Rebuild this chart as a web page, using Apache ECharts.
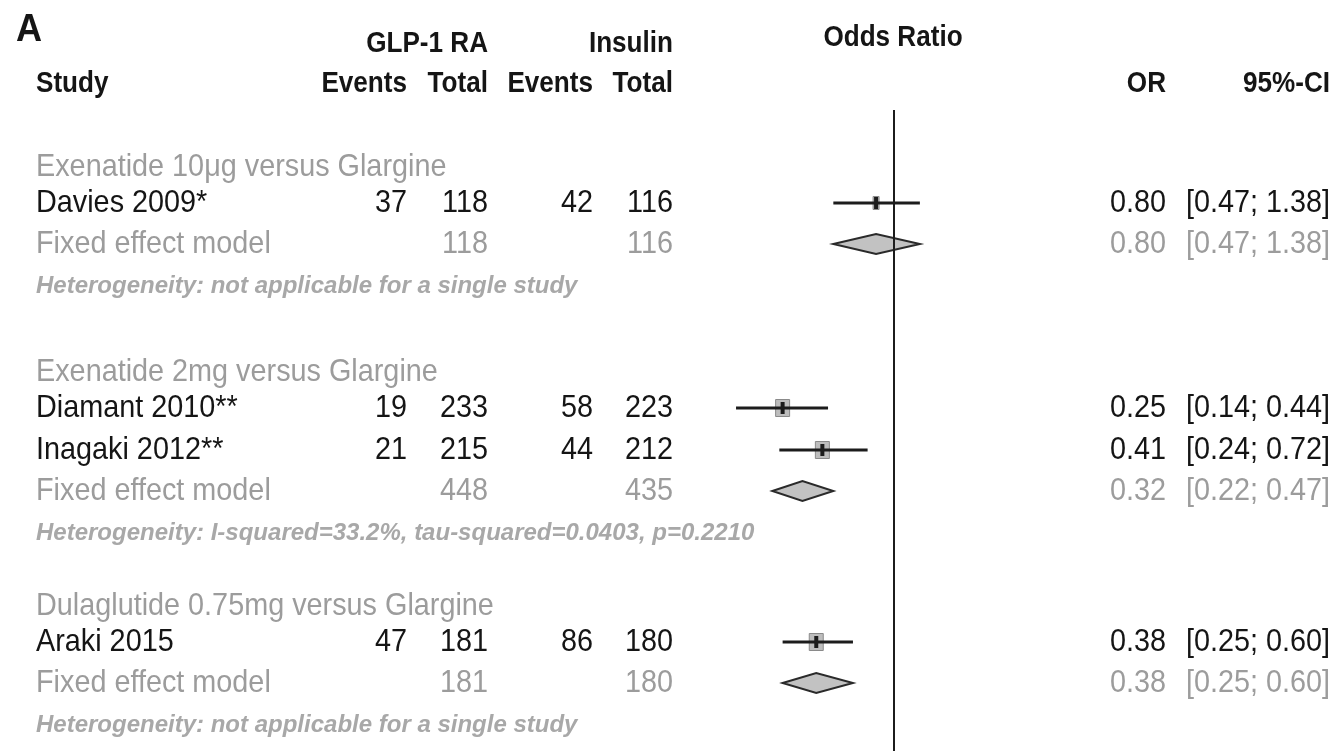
<!DOCTYPE html>
<html>
<head>
<meta charset="utf-8">
<title>Forest plot – GLP-1 RA versus insulin</title>
<script src="https://cdn.jsdelivr.net/npm/echarts@6/dist/echarts.min.js"></script>
<style>
  html, body { margin: 0; padding: 0; background: #fff; }
  #chart { width: 1337px; height: 751px; }
</style>
</head>
<body>
<div id="chart"></div>
<script>
// ---- data -------------------------------------------------------------
const groupTitles = [
  'Exenatide 10μg versus Glargine',
  'Exenatide 2mg versus Glargine',
  'Dulaglutide 0.75mg versus Glargine'
];
const studies    = ['Davies 2009*', 'Diamant 2010**', 'Inagaki 2012**', 'Araki 2015'];
const studyGroup = [0, 1, 1, 2];
const glpEvents  = [37, 19, 21, 47];
const glpTotal   = [118, 233, 215, 181];
const insEvents  = [42, 58, 44, 86];
const insTotal   = [116, 223, 212, 180];
const studyOR    = [0.80, 0.25, 0.41, 0.38];
const studyLo    = [0.47, 0.14, 0.24, 0.25];
const studyHi    = [1.38, 0.44, 0.72, 0.60];

const fixedGlpTotal = [118, 448, 181];
const fixedInsTotal = [116, 435, 180];
const fixedOR       = [0.80, 0.32, 0.38];
const fixedLo       = [0.47, 0.22, 0.25];
const fixedHi       = [1.38, 0.47, 0.60];
const heterogeneity = [
  'Heterogeneity: not applicable for a single study',
  'Heterogeneity: I-squared=33.2%, tau-squared=0.0403, p=0.2210',
  'Heterogeneity: not applicable for a single study'
];
const fixedLabel = 'Fixed effect model';

// ---- layout & style ---------------------------------------------------
const W = 1337, H = 751;
const FONT = '"Liberation Sans", Arial, Helvetica, sans-serif';
const BLACK = '#151515';
const GRAY = '#9c9c9c';
const HET_GRAY = '#a8a8a8';

const groupTop = [167, 372, 606];     // vertical centre of each subgroup title
const TITLE_TO_STUDY = 36, STUDY_STEP = 42, STUDY_TO_FIXED = 41, FIXED_TO_HET = 42;

const X_LEFT = 36;                      // left edge of the study column
const COL_RIGHT = [407, 488, 593, 673]; // right edges of the four count columns
const OR_RIGHT = 1166, CI_RIGHT = 1330; // right edges of the OR / CI columns
const REF_TOP = 110, REF_BOTTOM = H;    // extent of the line of no effect

// box sizes for the study estimates (px)
const boxW = [6, 14, 14, 14];
const boxH = [13, 17, 17, 17];

// row positions derived from the group structure
const studyY = [], fixedY = [], hetY = [];
(function () {
  groupTitles.forEach((g, gi) => {
    let y = groupTop[gi] + TITLE_TO_STUDY;
    const members = studies.map((s, i) => i).filter(i => studyGroup[i] === gi);
    members.forEach((i, k) => { studyY[i] = y; if (k < members.length - 1) y += STUDY_STEP; });
    fixedY[gi] = y + STUDY_TO_FIXED;
    hetY[gi] = fixedY[gi] + FIXED_TO_HET;
  });
})();

const fmt = v => v.toFixed(2);

// ---- text -------------------------------------------------------------
const graphics = [];
function txt(text, x, y, opt) {
  opt = opt || {};
  graphics.push({
    type: 'text',
    x: x, y: y,
    scaleX: opt.sx == null ? 0.9 : opt.sx,
    silent: true,
    z: 10,
    style: {
      text: text,
      font: (opt.font || 'normal 32px') + ' ' + FONT,
      fill: opt.color || BLACK,
      textAlign: opt.align || 'left',
      textVerticalAlign: 'middle'
    }
  });
}
const HEAD = 'bold 29px';

// panel letter and headers
txt('A', 16, 31, { font: 'bold 38px', sx: 0.95 });
txt('GLP-1 RA', COL_RIGHT[1], 44, { font: HEAD, align: 'right' });
txt('Insulin', COL_RIGHT[3], 44, { font: HEAD, align: 'right' });
txt('Odds Ratio', 893, 38, { font: HEAD, align: 'center' });
txt('Study', X_LEFT, 84, { font: HEAD });
['Events', 'Total', 'Events', 'Total'].forEach((h, i) =>
  txt(h, COL_RIGHT[i], 84, { font: HEAD, align: 'right' }));
txt('OR', OR_RIGHT, 84, { font: HEAD, align: 'right' });
txt('95%-CI', CI_RIGHT, 84, { font: HEAD, align: 'right' });

// subgroup titles, fixed-effect rows and heterogeneity lines
groupTitles.forEach((g, gi) => {
  txt(g, X_LEFT, groupTop[gi], { color: GRAY });
  txt(fixedLabel, X_LEFT, fixedY[gi], { color: GRAY });
  txt(String(fixedGlpTotal[gi]), COL_RIGHT[1], fixedY[gi], { color: GRAY, align: 'right' });
  txt(String(fixedInsTotal[gi]), COL_RIGHT[3], fixedY[gi], { color: GRAY, align: 'right' });
  txt(fmt(fixedOR[gi]), OR_RIGHT, fixedY[gi], { color: GRAY, align: 'right' });
  txt('[' + fmt(fixedLo[gi]) + '; ' + fmt(fixedHi[gi]) + ']', CI_RIGHT, fixedY[gi], { color: GRAY, align: 'right' });
  txt(heterogeneity[gi], X_LEFT, hetY[gi], { color: HET_GRAY, font: 'italic bold 24px', sx: 1 });
});

// individual studies
studies.forEach((s, i) => {
  const y = studyY[i];
  txt(s, X_LEFT, y);
  [glpEvents[i], glpTotal[i], insEvents[i], insTotal[i]].forEach((v, c) =>
    txt(String(v), COL_RIGHT[c], y, { align: 'right' }));
  txt(fmt(studyOR[i]), OR_RIGHT, y, { align: 'right' });
  txt('[' + fmt(studyLo[i]) + '; ' + fmt(studyHi[i]) + ']', CI_RIGHT, y, { align: 'right' });
});

// ---- chart ------------------------------------------------------------
const chart = echarts.init(document.getElementById('chart'), null, { renderer: 'canvas' });

const studyData = studies.map((s, i) => [studyLo[i], studyOR[i], studyHi[i], studyY[i], i]);
const fixedData = fixedOR.map((v, gi) => [fixedLo[gi], v, fixedHi[gi], fixedY[gi]]);

chart.setOption({
  animation: false,
  backgroundColor: '#ffffff',
  grid: { left: 709, width: 370, top: 0, height: H },
  xAxis: {
    type: 'log', logBase: 10, min: 0.1, max: 10,
    axisLine: { show: false }, axisTick: { show: false },
    axisLabel: { show: false }, splitLine: { show: false }
  },
  yAxis: {
    type: 'value', min: 0, max: H, inverse: true,
    axisLine: { show: false }, axisTick: { show: false },
    axisLabel: { show: false }, splitLine: { show: false }
  },
  series: [
    {
      // study estimates: box, confidence interval and centre tick
      type: 'custom',
      z: 3,
      data: studyData,
      renderItem: function (params, api) {
        const lo = api.coord([api.value(0), api.value(3)]);
        const mid = api.coord([api.value(1), api.value(3)]);
        const hi = api.coord([api.value(2), api.value(3)]);
        const k = api.value(4);
        const bw = boxW[k], bh = boxH[k];
        return {
          type: 'group',
          children: [
            { type: 'rect', shape: { x: mid[0] - bw / 2, y: mid[1] - bh / 2, width: bw, height: bh },
              style: { fill: '#bdbdbd', stroke: '#8a8a8a', lineWidth: 1 } },
            { type: 'line', shape: { x1: lo[0], y1: lo[1], x2: hi[0], y2: hi[1] },
              style: { stroke: '#1c1c1c', lineWidth: 3 } },
            { type: 'rect', shape: { x: mid[0] - 2, y: mid[1] - 6, width: 4, height: 12 },
              style: { fill: '#1c1c1c' } }
          ]
        };
      }
    },
    {
      // pooled (fixed effect) diamonds
      type: 'custom',
      z: 3,
      data: fixedData,
      renderItem: function (params, api) {
        const lo = api.coord([api.value(0), api.value(3)]);
        const mid = api.coord([api.value(1), api.value(3)]);
        const hi = api.coord([api.value(2), api.value(3)]);
        const h = 10;
        return {
          type: 'polygon',
          shape: { points: [[lo[0], lo[1]], [mid[0], mid[1] - h], [hi[0], hi[1]], [mid[0], mid[1] + h]] },
          style: { fill: '#c2c2c2', stroke: '#2a2a2a', lineWidth: 2 }
        };
      }
    },
    {
      // line of no effect (OR = 1)
      type: 'line',
      z: 5,
      data: [[1, REF_TOP], [1, REF_BOTTOM]],
      symbol: 'none',
      silent: true,
      lineStyle: { color: '#1c1c1c', width: 2 }
    }
  ],
  graphic: graphics
});
</script>
</body>
</html>
